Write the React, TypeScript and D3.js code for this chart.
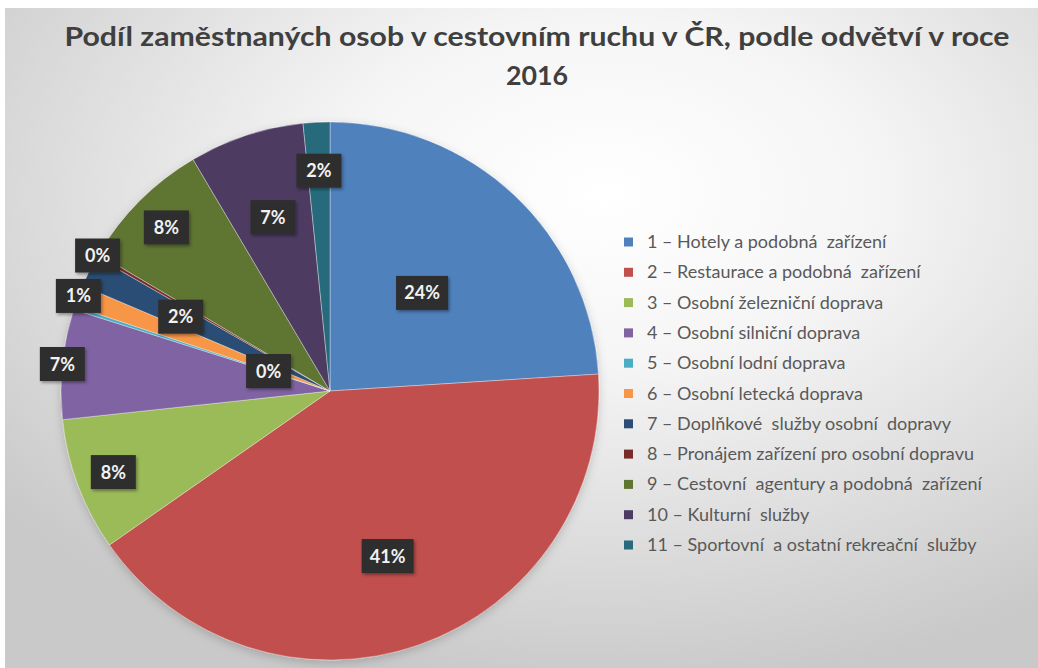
import * as d3 from "d3";

// data (percent)
const categories = [
  "1 – Hotely a podobná  zařízení",
  "2 – Restaurace a podobná  zařízení",
  "3 – Osobní železniční doprava",
  "4 – Osobní silniční doprava",
  "5 – Osobní lodní doprava",
  "6 – Osobní letecká doprava",
  "7 – Doplňkové  služby osobní  dopravy",
  "8 – Pronájem zařízení pro osobní dopravu",
  "9 – Cestovní  agentury a podobná  zařízení",
  "10 – Kulturní  služby",
  "11 – Sportovní  a ostatní rekreační  služby",
];
const values = [24.0, 41.3, 8.0, 6.6, 0.2, 1.3, 1.9, 0.2, 8.0, 6.9, 1.6];
const colors = [
  "#4F81BD", "#C0504D", "#9BBB59", "#8064A2", "#4BACC6", "#F79646",
  "#2C4D75", "#772C2A", "#5F7530", "#4D3B62", "#276A7C",
];
// where Excel's "best fit" put each data label, as a share of the radius
const labelRadius = [0.5, 0.65, 0.86, 1.0, 0.24, 1.0, 0.62, 1.0, 0.86, 0.68, 0.82];

const W = 1038;
const H = 668;
const cx = 330;
const cy = 391;
const R = 269;
const font = "Lato, 'Open Sans', sans-serif";

const App = () => {
  const pie = d3.pie<number>().sort(null).value((d) => d);
  const arcs = pie(values);
  const arc = d3.arc<d3.PieArcDatum<number>>().innerRadius(0).outerRadius(R);

  const legendY = d3.scaleLinear().domain([0, categories.length - 1]).range([242, 545]);

  return (
    <svg width={W} height={H} style={{ position: "absolute", left: 0, top: 0 }}>
      <defs>
        <radialGradient id="bg" cx="58%" cy="28%" r="75%">
          <stop offset="0" stopColor="#ffffff" />
          <stop offset="0.35" stopColor="#f5f5f5" />
          <stop offset="1" stopColor="#c9c9c9" />
        </radialGradient>
        <filter id="pieShadow" x="-20%" y="-20%" width="140%" height="140%">
          <feDropShadow dx="0" dy="3" stdDeviation="5" floodColor="#000" floodOpacity="0.18" />
        </filter>
        <filter id="boxShadow" x="-30%" y="-30%" width="160%" height="160%">
          <feDropShadow dx="1.5" dy="2" stdDeviation="1.5" floodColor="#000" floodOpacity="0.35" />
        </filter>
      </defs>
      <rect x={5} y={8} width={W - 5} height={H - 8} fill="url(#bg)" />

      <g fontFamily={font} fontSize={27} fontWeight="bold" fill="#3f3f3f" textAnchor="middle">
        <text x={537} y={46} textLength={945} lengthAdjust="spacingAndGlyphs">
          Podíl zaměstnaných osob v cestovním ruchu v ČR, podle odvětví v roce
        </text>
        <text x={537} y={85} textLength={62} lengthAdjust="spacingAndGlyphs">
          2016
        </text>
      </g>

      <g transform={`translate(${cx},${cy})`}>
        <g filter="url(#pieShadow)">
          {arcs.map((a, i) => (
            <path key={i} d={arc(a) || ""} fill={colors[i]} stroke="#ffffff" strokeOpacity={0.35} strokeWidth={1} />
          ))}
        </g>
        {arcs.map((a, i) => {
          const lr = R * labelRadius[i];
          const [lx, ly] = d3.arc<d3.PieArcDatum<number>>().innerRadius(lr).outerRadius(lr).centroid(a);
          const label = Math.round(a.data) + "%";
          const bw = label.length > 2 ? 52 : 45;
          return (
            <g key={"l" + i} transform={`translate(${lx},${ly})`}>
              <rect x={-bw / 2} y={-17} width={bw} height={34} fill="#2e2e2e" filter="url(#boxShadow)" />
              <text y={6.5} textAnchor="middle" fontFamily={font} fontWeight="bold" fontSize={18} fill="#f2f2f2">
                {label}
              </text>
            </g>
          );
        })}
      </g>

      <g fontFamily={font} fontSize={18} fill="#595959">
        {categories.map((c, i) => (
          <g key={c} transform={`translate(624,${legendY(i)})`}>
            <rect x={0} y={-4.5} width={9} height={9} fill={colors[i]} />
            <text x={23} y={6} style={{ whiteSpace: "pre" }}>
              {c}
            </text>
          </g>
        ))}
      </g>
    </svg>
  );
};

export default App;
